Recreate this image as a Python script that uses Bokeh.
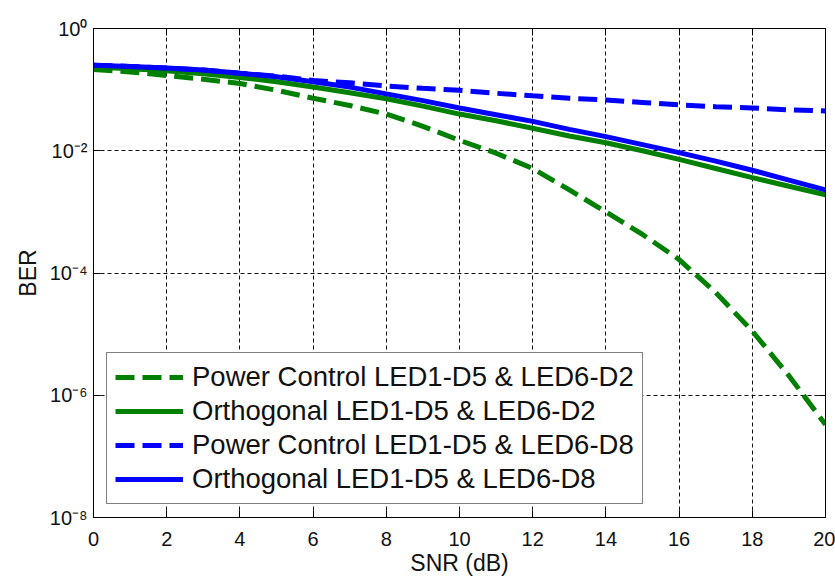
from bokeh.plotting import figure
from bokeh.models import (FixedTicker, CustomJSTickFormatter, LogAxis, LinearAxis,
                          Legend, LegendItem)
from bokeh.embed import file_html
from bokeh.resources import INLINE

snr = [0, 1, 2, 3, 4, 5, 6, 7, 8, 9, 10, 11, 12, 13, 14, 15, 16, 17, 18, 19, 20]

pc_d2 = [0.214, 0.195, 0.170, 0.148, 0.126, 0.0977, 0.0724, 0.0550, 0.0398, 0.0251,
         0.0148, 0.00912, 0.00513, 0.00229, 0.00100, 4.27e-4, 1.66e-4, 4.79e-5,
         1.12e-5, 2.09e-6, 3.31e-7]
orth_d2 = [0.234, 0.219, 0.204, 0.182, 0.158, 0.135, 0.110, 0.0891, 0.0708, 0.0537,
           0.0398, 0.0309, 0.0234, 0.0174, 0.0135, 0.0100, 0.00724, 0.00513,
           0.00363, 0.00263, 0.00191]
pc_d8 = [0.251, 0.240, 0.226, 0.209, 0.186, 0.166, 0.141, 0.129, 0.115, 0.105,
         0.0977, 0.0871, 0.0794, 0.0724, 0.0676, 0.0617, 0.0562, 0.0525, 0.0501,
         0.0468, 0.0447]
orth_d8 = [0.251, 0.240, 0.226, 0.209, 0.186, 0.162, 0.135, 0.110, 0.0851, 0.0661,
           0.0501, 0.0389, 0.0302, 0.0224, 0.0170, 0.0126, 0.00933, 0.00676,
           0.00479, 0.00331, 0.00229]

labels = ["Power Control LED1-D5 & LED6-D2", "Orthogonal LED1-D5 & LED6-D2",
          "Power Control LED1-D5 & LED6-D8", "Orthogonal LED1-D5 & LED6-D8"]
x_ticks = [0, 2, 4, 6, 8, 10, 12, 14, 16, 18, 20]
y_ticks = [1e-8, 1e-6, 1e-4, 1e-2, 1]

FONT = "Liberation Sans"

p = figure(width=835, height=584, x_range=(0, 20), y_range=(1e-8, 1),
           y_axis_type="log", output_backend="svg", toolbar_location=None,
           min_border_left=93, min_border_right=10, min_border_top=28,
           min_border_bottom=67)
p.background_fill_color = "white"
p.border_fill_color = "white"
p.outline_line_color = "black"
p.outline_line_width = 1

sup = CustomJSTickFormatter(code="""
const m = {'-':'\u207b','0':'\u2070','1':'\u00b9','2':'\u00b2','3':'\u00b3','4':'\u2074',
           '5':'\u2075','6':'\u2076','7':'\u2077','8':'\u2078','9':'\u2079'};
const e = Math.round(Math.log10(tick));
return '10' + String(e).split('').map(c => m[c]).join('');
""")

for ax in p.xaxis:
    ax.ticker = FixedTicker(ticks=x_ticks)
for ax in p.yaxis:
    ax.ticker = FixedTicker(ticks=y_ticks)
    ax.formatter = sup

for ax in list(p.xaxis) + list(p.yaxis):
    ax.major_tick_in = 7
    ax.major_tick_out = 0
    ax.minor_tick_line_color = None
    ax.axis_line_color = "black"
    ax.major_tick_line_color = "black"
    ax.major_label_text_font = FONT
    ax.major_label_text_font_size = "20px"
    ax.major_label_text_color = "#111111"
    ax.axis_label_text_font = FONT
    ax.axis_label_text_font_size = "23px"
    ax.axis_label_text_font_style = "normal"
    ax.axis_label_text_color = "#111111"
p.xaxis.axis_label = "SNR (dB)"
p.yaxis.axis_label = "BER"
p.xaxis.major_label_standoff = 14
p.xaxis.axis_label_standoff = 1
p.yaxis.major_label_standoff = 6
p.yaxis.axis_label_standoff = 6

# mirrored inward ticks on top and right (no labels)
blank = CustomJSTickFormatter(code="return '';")
top = LinearAxis(ticker=FixedTicker(ticks=x_ticks), formatter=blank,
                 major_tick_in=7, major_tick_out=0, minor_tick_line_color=None,
                 major_label_standoff=0, axis_line_color="black")
right = LogAxis(ticker=FixedTicker(ticks=y_ticks), formatter=blank,
                major_tick_in=7, major_tick_out=0, minor_tick_line_color=None,
                major_label_standoff=0, axis_line_color="black")
p.add_layout(top, "above")
p.add_layout(right, "right")

p.xgrid.ticker = FixedTicker(ticks=x_ticks)
p.ygrid.ticker = FixedTicker(ticks=y_ticks)
for g in (p.xgrid, p.ygrid):
    g.grid_line_color = "#111111"
    g.grid_line_dash = "4 3"
    g.grid_line_width = 1
    g.grid_line_alpha = 1

r1 = p.line(snr, pc_d2, line_color="#008000", line_width=5, line_dash="19 8")
r2 = p.line(snr, orth_d2, line_color="#008000", line_width=5)
r3 = p.line(snr, pc_d8, line_color="#0000FF", line_width=5, line_dash="19 8")
r4 = p.line(snr, orth_d8, line_color="#0000FF", line_width=5)

legend = Legend(items=[LegendItem(label=labels[0], renderers=[r1]),
                       LegendItem(label=labels[1], renderers=[r2]),
                       LegendItem(label=labels[2], renderers=[r3]),
                       LegendItem(label=labels[3], renderers=[r4])],
                location=(13, 13))
legend.border_line_color = "black"
legend.border_line_width = 1
legend.background_fill_color = "white"
legend.background_fill_alpha = 1
legend.label_text_font = FONT
legend.label_text_font_size = "27.5px"
legend.label_text_color = "#111111"
legend.glyph_width = 68
legend.glyph_height = 30
legend.label_height = 30
legend.spacing = 2
legend.padding = 8
legend.margin = 0
legend.label_standoff = 9
p.add_layout(legend, "center")

open("out.html", "w").write(file_html(p, INLINE))
